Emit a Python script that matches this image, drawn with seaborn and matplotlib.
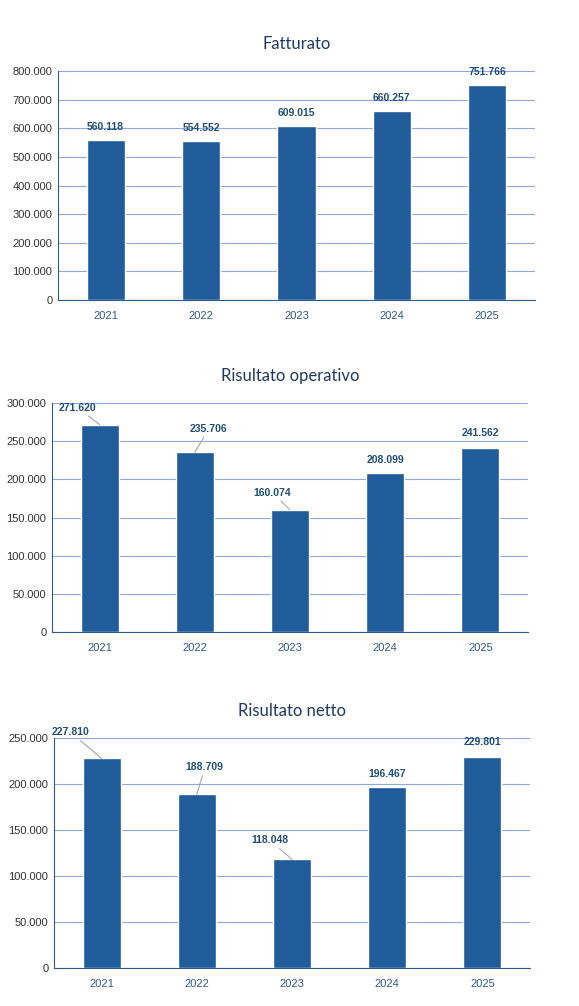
import pandas as pd
import seaborn as sns
import matplotlib.pyplot as plt

# Data
years = ["2021", "2022", "2023", "2024", "2025"]
fatturato = [560118, 554552, 609015, 660257, 751766]
ris_operativo = [271620, 235706, 160074, 208099, 241562]
ris_netto = [227810, 188709, 118048, 196467, 229801]

titles = ["Fatturato", "Risultato operativo", "Risultato netto"]
ymax = [800000, 300000, 250000]
ystep = [100000, 50000, 50000]

sns.set_style("white")
plt.rcParams["font.family"] = ["Liberation Sans", "DejaVu Sans"]

bar_color = "#1F5C99"
label_color = "#1F4E79"

fig = plt.figure(figsize=(5.79, 10.06), dpi=100)

# axes rectangles in figure fractions
rects = [
    [58 / 579, 1 - 300 / 1006, 477 / 579, 229 / 1006],
    [52 / 579, 1 - 632 / 1006, 476 / 579, 229 / 1006],
    [54 / 579, 1 - 968 / 1006, 476 / 579, 230 / 1006],
]
# label offsets (pixels) relative to bar top
offsets = [
    [(0, 13)] * 5,
    [(-22, 17), (14, 23), (-18, 17), (0, 13), (0, 15)],
    [(-31, 26), (8, 27), (-22, 19), (0, 13), (0, 15)],
]
series = [fatturato, ris_operativo, ris_netto]

for i in range(3):
    ax = fig.add_axes(rects[i])
    df = pd.DataFrame({"anno": years, "valore": series[i]})
    sns.barplot(data=df, x="anno", y="valore", color=bar_color, width=0.4,
                saturation=1, ax=ax, zorder=3)
    ax.set_ylim(0, ymax[i])
    ticks = list(range(0, ymax[i] + 1, ystep[i]))
    ax.set_yticks(ticks)
    ax.set_yticklabels([f"{t:,}".replace(",", ".") for t in ticks],
                       fontsize=8, color="#333333")
    ax.yaxis.grid(True, color="#8EA9DB", linewidth=0.8, zorder=0)
    ax.set_xlim(-0.5, 4.5)
    ax.tick_params(axis="x", labelsize=8, labelcolor="#2E5A8C", length=0, pad=8)
    ax.tick_params(axis="y", length=0, pad=4)
    ax.set_xticks([0, 1, 2, 3, 4], minor=False)
    ax.set_xticks([0.5, 1.5, 2.5, 3.5], minor=True)
    ax.tick_params(axis="x", which="minor", length=4, color="#2E5A8C")
    ax.set_xlabel("")
    ax.set_ylabel("")
    for s in ["top", "right"]:
        ax.spines[s].set_visible(False)
    ax.spines["left"].set_color("#2E5A8C")
    ax.spines["bottom"].set_color("#2E5A8C")
    ax.set_title(titles[i], fontsize=12, color="#1F3864", family="Lato", pad=16)

    for j, v in enumerate(series[i]):
        dx, dy = offsets[i][j]
        arrow = None
        if dx != 0:
            arrow = dict(arrowstyle="-", color="#A6A6A6", linewidth=0.8,
                         shrinkA=0, shrinkB=0)
        ax.annotate(f"{v:,}".replace(",", "."), xy=(j, v),
                    xytext=(dx, dy), textcoords="offset pixels",
                    ha="center", va="center", fontsize=7.5, fontweight="bold",
                    color=label_color, arrowprops=arrow, zorder=5,
                    annotation_clip=False)

fig.savefig("out.png", dpi=100)
